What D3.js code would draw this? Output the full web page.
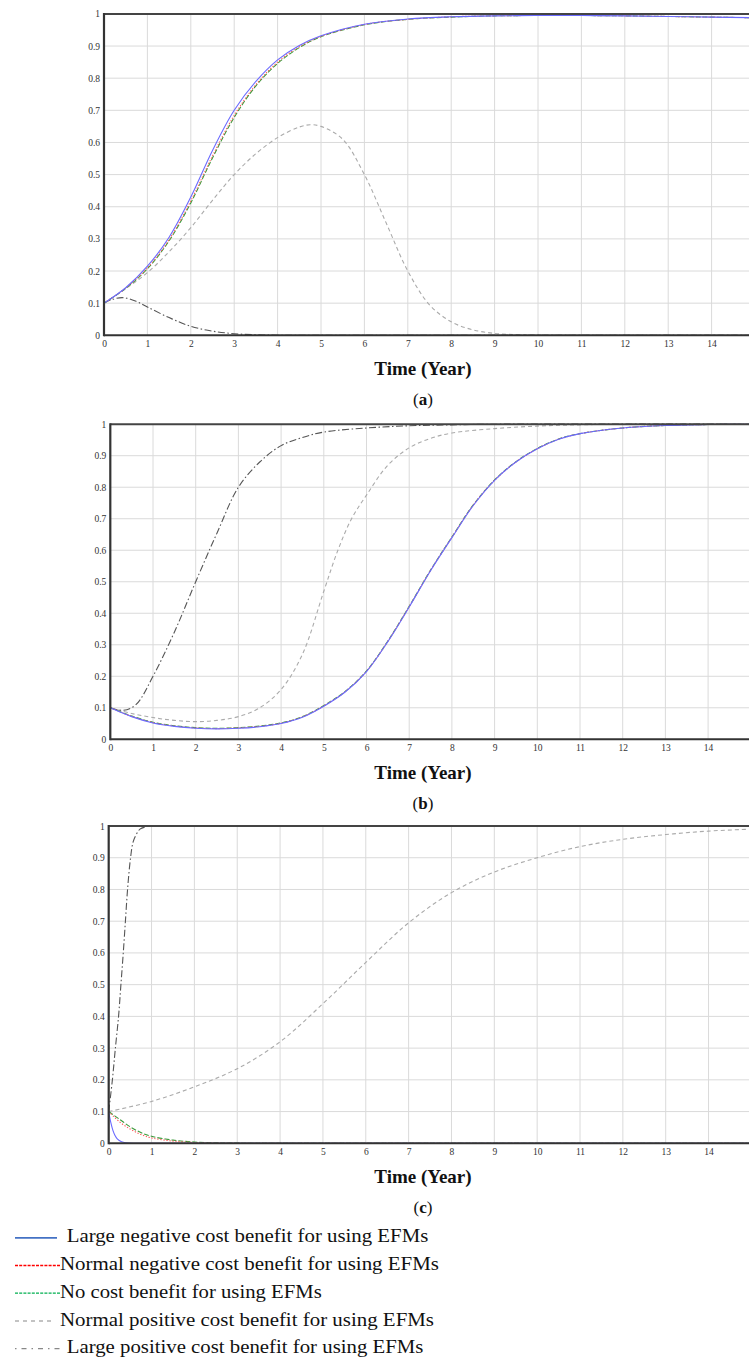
<!DOCTYPE html>
<html><head><meta charset="utf-8">
<script src="https://cdn.jsdelivr.net/npm/d3@7"></script>
<style>body{margin:0;background:#fff}</style>
</head><body><svg id="chart" width="749" height="1360"></svg>
<script>
// ---------- tick labels ----------
const xTickValues = d3.range(0, 15);
const xTickLabels = ["0","1","2","3","4","5","6","7","8","9","10","11","12","13","14"];
const gridXValues = d3.range(1, 16);
const yTickValues = [0,0.1,0.2,0.3,0.4,0.5,0.6,0.7,0.8,0.9,1];
const yTickLabels = ["0","0.1","0.2","0.3","0.4","0.5","0.6","0.7","0.8","0.9","1"];
const axisTitle = "Time (Year)";

// ---------- legend ----------
const seriesNames = [
  "Large negative cost benefit for using EFMs",
  "Normal negative cost benefit for using EFMs",
  "No cost benefit for using EFMs",
  "Normal positive cost benefit for using EFMs",
  "Large positive cost benefit for using EFMs"
];

// ---------- panel (a) data: [time, value] ----------
const aLargeNeg = [[0,0.1],[0.5,0.148],[1,0.215],[1.5,0.305],[2,0.43],[2.5,0.575],[3,0.70],[3.5,0.79],[4,0.857],[4.5,0.902],[5,0.932],[6,0.968],[7,0.984],[8,0.991],[9,0.994],[10,0.995],[11,0.995],[12,0.994],[13,0.992],[14,0.99],[15,0.988]];
const aNormalNeg = [[0,0.1],[0.5,0.147],[1,0.21],[1.5,0.298],[2,0.418],[2.5,0.558],[3,0.684],[3.5,0.78],[4,0.85],[4.5,0.898],[5,0.93],[6,0.967],[7,0.983],[8,0.991],[9,0.994],[10,0.995],[11,0.995],[12,0.994],[13,0.992],[14,0.99],[15,0.988]];
const aNoBenefit = [[0,0.1],[0.5,0.146],[1,0.207],[1.5,0.294],[2,0.412],[2.5,0.552],[3,0.678],[3.5,0.776],[4,0.846],[4.5,0.895],[5,0.929],[6,0.966],[7,0.983],[8,0.99],[9,0.994],[10,0.995],[11,0.995],[12,0.994],[13,0.992],[14,0.99],[15,0.988]];
const aNormalPos = [[0,0.1],[0.5,0.145],[1,0.195],[1.5,0.26],[2,0.335],[2.5,0.42],[3,0.5],[3.5,0.565],[4,0.615],[4.5,0.648],[4.75,0.655],[5,0.65],[5.5,0.61],[6,0.5],[6.5,0.35],[7,0.2],[7.5,0.095],[8,0.042],[8.5,0.017],[9,0.006],[9.5,0.002],[10,0.0005],[11,0],[15,0]];
const aLargePos = [[0,0.1],[0.2,0.112],[0.45,0.117],[0.75,0.105],[1,0.088],[1.5,0.055],[2,0.028],[2.5,0.013],[3,0.005],[3.5,0.0015],[4,0.0003],[5,0],[15,0]];

// ---------- panel (b) data ----------
const bLargeNeg = [[0,0.1],[0.5,0.072],[1,0.052],[1.5,0.041],[2,0.035],[2.5,0.033],[3,0.035],[3.5,0.04],[4,0.05],[4.5,0.07],[5,0.105],[5.5,0.15],[6,0.215],[6.5,0.31],[7,0.42],[7.5,0.535],[8,0.64],[8.5,0.742],[9,0.822],[9.5,0.88],[10,0.922],[10.5,0.952],[11,0.97],[12,0.988],[13,0.996],[14,0.999],[15,1]];
const bNormalNeg = [[0,0.1],[0.5,0.073],[1,0.053],[1.5,0.042],[2,0.036],[2.5,0.034],[3,0.036],[3.5,0.041],[4,0.051],[4.5,0.071],[5,0.106],[5.5,0.151],[6,0.216],[6.5,0.311],[7,0.421],[7.5,0.536],[8,0.641],[8.5,0.743],[9,0.822],[9.5,0.88],[10,0.922],[10.5,0.952],[11,0.97],[12,0.988],[13,0.996],[14,0.999],[15,1]];
const bNoBenefit = [[0,0.1],[0.5,0.074],[1,0.054],[1.5,0.043],[2,0.037],[2.5,0.035],[3,0.037],[3.5,0.042],[4,0.052],[4.5,0.072],[5,0.107],[5.5,0.152],[6,0.217],[6.5,0.312],[7,0.422],[7.5,0.537],[8,0.642],[8.5,0.744],[9,0.823],[9.5,0.881],[10,0.923],[10.5,0.953],[11,0.97],[12,0.988],[13,0.996],[14,0.999],[15,1]];
const bNormalPos = [[0,0.1],[0.5,0.082],[1,0.069],[1.5,0.06],[2,0.056],[2.5,0.06],[3,0.072],[3.5,0.1],[4,0.158],[4.5,0.27],[5,0.47],[5.33,0.6],[5.65,0.7],[6,0.775],[6.5,0.87],[7,0.925],[7.5,0.955],[8,0.972],[9,0.986],[10,0.994],[11,0.998],[12,1],[15,1]];
const bLargePos = [[0,0.1],[0.3,0.092],[0.6,0.11],[1,0.2],[1.5,0.34],[2,0.5],[2.5,0.655],[3,0.8],[3.5,0.88],[4,0.932],[4.5,0.958],[5,0.975],[6,0.988],[7,0.995],[8,0.998],[9,1],[15,1]];

// ---------- panel (c) data ----------
const cLargeNeg = [[0,0.1],[0.05,0.065],[0.1,0.04],[0.15,0.024],[0.2,0.014],[0.3,0.005],[0.4,0.0018],[0.6,0.0002],[1,0],[15,0]];
const cNormalNeg = [[0,0.1],[0.25,0.068],[0.5,0.045],[0.75,0.028],[1,0.017],[1.5,0.007],[2,0.0025],[2.5,0.001],[3,0.0003],[4,0],[15,0]];
const cNoBenefit = [[0,0.1],[0.25,0.076],[0.5,0.052],[0.75,0.034],[1,0.022],[1.5,0.01],[2,0.004],[2.5,0.0015],[3,0.0005],[4,0],[15,0]];
const cNormalPos = [[0,0.1],[1,0.132],[2,0.178],[3,0.235],[4,0.32],[5,0.44],[6,0.57],[7,0.695],[8,0.79],[9,0.855],[10,0.9],[11,0.935],[12,0.958],[13,0.973],[14,0.984],[15,0.99]];
const cLargePos = [[0,0.1],[0.086,0.2],[0.156,0.3],[0.23,0.4],[0.285,0.5],[0.34,0.6],[0.39,0.7],[0.44,0.8],[0.51,0.9],[0.57,0.95],[0.65,0.975],[0.73,0.99],[0.85,0.997],[0.96,1],[1.6,1]];

// ---------- styles ----------
const plotStyles = {
  largeNeg:  {stroke:"#6a6aff", dash:null,        width:1.1},
  normalNeg: {stroke:"#ff5a5a", dash:"1.3,1.7",   width:1.1},
  noBenefit: {stroke:"#3a9a3a", dash:"5,2",       width:1.1},
  normalPos: {stroke:"#ababab", dash:"4,3",       width:1.1},
  largePos:  {stroke:"#555555", dash:"7,2.5,1.5,2.5", width:1.1}
};
const drawOrder = ["normalPos","largePos","noBenefit","normalNeg","largeNeg"];

const panels = [
  {label:"a", left:104,   x15:755,   top:13.9,  bottom:335.3,
   data:{largeNeg:aLargeNeg, normalNeg:aNormalNeg, noBenefit:aNoBenefit, normalPos:aNormalPos, largePos:aLargePos}},
  {label:"b", left:110.3, x15:750.8, top:424.2, bottom:739.3,
   data:{largeNeg:bLargeNeg, normalNeg:bNormalNeg, noBenefit:bNoBenefit, normalPos:bNormalPos, largePos:bLargePos}},
  {label:"c", left:108.7, x15:751.4, top:826,   bottom:1143.3,
   data:{largeNeg:cLargeNeg, normalNeg:cNormalNeg, noBenefit:cNoBenefit, normalPos:cNormalPos, largePos:cLargePos}}
];

const svg = d3.select("#chart");
const W = 749;
const tickFont = "'Liberation Serif', serif";
const titleFont = "'Liberation Serif', serif";

panels.forEach(p => {
  const x = d3.scaleLinear().domain([0,15]).range([p.left, p.x15]);
  const y = d3.scaleLinear().domain([0,1]).range([p.bottom, p.top]);
  const g = svg.append("g");

  // gridlines
  g.selectAll(".vg").data(gridXValues).join("line")
    .attr("x1", d => x(d)).attr("x2", d => x(d))
    .attr("y1", p.top).attr("y2", p.bottom)
    .attr("stroke", "#dadada").attr("stroke-width", 1);
  g.selectAll(".hg").data(yTickValues.filter(d => d > 0 && d < 1)).join("line")
    .attr("x1", p.left).attr("x2", W)
    .attr("y1", d => y(d)).attr("y2", d => y(d))
    .attr("stroke", "#dadada").attr("stroke-width", 1);

  // curves
  const line = d3.line().x(d => x(d[0])).y(d => y(d[1])).curve(d3.curveCatmullRom.alpha(0.5));
  drawOrder.forEach(k => {
    const s = plotStyles[k];
    g.append("path").datum(p.data[k])
      .attr("d", line).attr("fill", "none")
      .attr("stroke", s.stroke).attr("stroke-width", s.width)
      .attr("stroke-dasharray", s.dash);
  });

  // axes
  const yAxis = d3.axisLeft(y).tickValues(yTickValues)
    .tickFormat((d,i) => yTickLabels[i]).tickSize(0).tickPadding(4);
  const ya = g.append("g").attr("transform", `translate(${p.left},0)`).call(yAxis);
  ya.select(".domain").remove();
  ya.selectAll("text").attr("font-family", tickFont).attr("font-size", 9.5).attr("fill", "#333");

  const xAxis = d3.axisBottom(x).tickValues(xTickValues)
    .tickFormat((d,i) => xTickLabels[i]).tickSize(0).tickPadding(5);
  const xa = g.append("g").attr("transform", `translate(0,${p.bottom})`).call(xAxis);
  xa.select(".domain").remove();
  xa.selectAll("text").attr("font-family", tickFont).attr("font-size", 9.5).attr("fill", "#333");

  // frame
  g.append("line").attr("x1", p.left).attr("x2", W).attr("y1", p.top).attr("y2", p.top)
    .attr("stroke", "#444").attr("stroke-width", 2);
  g.append("line").attr("x1", p.left).attr("x2", W).attr("y1", p.bottom).attr("y2", p.bottom)
    .attr("stroke", "#333").attr("stroke-width", 2);
  g.append("line").attr("x1", p.left).attr("x2", p.left).attr("y1", p.top - 1).attr("y2", p.bottom + 1)
    .attr("stroke", "#333").attr("stroke-width", 2.2);

  // titles
  svg.append("text").attr("x", 423).attr("y", p.bottom + 40)
    .attr("text-anchor", "middle").attr("font-family", titleFont)
    .attr("font-weight", "bold").attr("font-size", 19).attr("fill", "#111")
    .text(axisTitle);
  const lab = svg.append("text").attr("x", 423).attr("y", p.bottom + 70)
    .attr("text-anchor", "middle").attr("font-family", titleFont)
    .attr("font-size", 17).attr("fill", "#111");
  lab.append("tspan").text("(");
  lab.append("tspan").attr("font-weight", "bold").text(p.label);
  lab.append("tspan").text(")");
});

// ---------- legend ----------
const legendY = [1242.3, 1270, 1297.7, 1325.5, 1353.2];
const legendTextX = [66.7, 60, 60, 60, 66.7];
const legendTextW = [361.6, 379, 261.7, 374, 356.7];
const legendSamples = [
  {stroke:"#4472c4", dash:null,   width:1.8, x2:57},
  {stroke:"#ff0000", dash:"3,1.2", width:1.3, x2:60},
  {stroke:"#00b050", dash:"3,1.2", width:1.3, x2:60},
  {stroke:"#888888", dash:"4,4",  width:1.1, x2:55},
  {stroke:"#888888", dash:"1.5,5,5,5", width:1.3, x2:60}
];
const lg = svg.append("g");
seriesNames.forEach((name, i) => {
  const s = legendSamples[i];
  lg.append("line").attr("x1", 15).attr("x2", s.x2)
    .attr("y1", legendY[i] - 4.5).attr("y2", legendY[i] - 4.5)
    .attr("stroke", s.stroke).attr("stroke-width", s.width)
    .attr("stroke-dasharray", s.dash);
  lg.append("text").attr("x", legendTextX[i]).attr("y", legendY[i])
    .attr("font-family", titleFont).attr("font-size", 19).attr("fill", "#111")
    .attr("textLength", legendTextW[i]).attr("lengthAdjust", "spacingAndGlyphs")
    .text(name);
});
</script></body></html>
